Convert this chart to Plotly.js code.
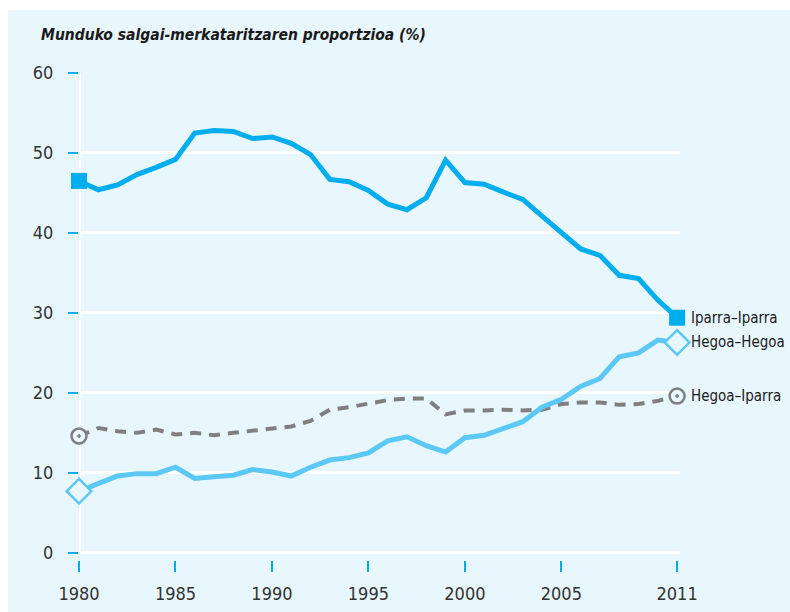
<!DOCTYPE html>
<html>
<head>
<meta charset="utf-8">
<script src="https://cdn.plot.ly/plotly-3.0.1.min.js"></script>
<style>
html,body{margin:0;padding:0;background:#ffffff;}
#chart{position:absolute;left:8px;top:10px;width:782px;height:602px;}
</style>
</head>
<body>
<div id="chart"></div>
<script>
const years = [1980,1981,1982,1983,1984,1985,1986,1987,1988,1989,1990,1991,1992,1993,1994,1995,1996,1997,1998,1999,2000,2001,2002,2003,2004,2005,2006,2007,2008,2009,2010,2011];
const iparraIparra = [46.5,45.4,46.0,47.3,48.2,49.2,52.5,52.8,52.7,51.8,52.0,51.2,49.8,46.7,46.4,45.3,43.6,42.9,44.4,49.1,46.3,46.1,45.1,44.2,42.1,40.1,38.0,37.2,34.7,34.3,31.6,29.4];
const hegoaHegoa = [7.7,8.6,9.6,9.9,9.9,10.7,9.3,9.5,9.7,10.4,10.1,9.6,10.7,11.6,11.9,12.5,14.0,14.5,13.4,12.6,14.4,14.7,15.5,16.4,18.2,19.2,20.8,21.8,24.5,25.0,26.6,26.3];
const hegoaIparra = [14.6,15.6,15.2,15.0,15.4,14.8,15.0,14.7,15.0,15.3,15.5,15.8,16.5,17.9,18.2,18.7,19.1,19.3,19.3,17.3,17.8,17.8,17.9,17.8,17.9,18.6,18.8,18.8,18.5,18.6,19.0,19.6];
const seriesNames = ["Iparra\u2013Iparra","Hegoa\u2013Hegoa","Hegoa\u2013Iparra"];
const xTicks = [1980,1985,1990,1995,2000,2005,2011];
const yTicks = [0,10,20,30,40,50,60];
const titleText = "Munduko salgai-merkataritzaren proportzioa (%)";

const DARK = "#00aeef", LIGHT = "#5bc8f5", GRAY = "#7f7f80", BG = "#e8f6fd";
const FONT = "'Liberation Sans Narrow', 'DejaVu Sans Condensed', 'Roboto Condensed', Roboto, sans-serif";
const last = years.length - 1;
function ends(arr){ return [arr[0], arr[last]]; }

const traces = [
  {x: years, y: hegoaIparra, mode:"lines", line:{color:GRAY, width:4, dash:"11px,8px"}},
  {x: years, y: hegoaHegoa, mode:"lines", line:{color:LIGHT, width:5}},
  {x: years, y: iparraIparra, mode:"lines", line:{color:DARK, width:5}},
  {x: ends(years), y: ends(hegoaIparra), mode:"markers", cliponaxis:false,
   marker:{symbol:"circle-dot", size:15, color:BG, line:{width:2.5, color:GRAY}}},
  {x: ends(years), y: ends(hegoaHegoa), mode:"markers", cliponaxis:false,
   marker:{symbol:"diamond", size:19, color:BG, line:{width:2.5, color:LIGHT}}},
  {x: ends(years), y: ends(iparraIparra), mode:"markers", cliponaxis:false,
   marker:{symbol:"square", size:16, color:DARK, line:{width:0}}}
];

const annotations = [
  {x: years[last], y: iparraIparra[last], text: seriesNames[0]},
  {x: years[last], y: hegoaHegoa[last], text: seriesNames[1]},
  {x: years[last], y: hegoaIparra[last], text: seriesNames[2]}
].map(a => Object.assign(a, {xref:"x", yref:"y", xanchor:"left", yanchor:"middle", xshift:12, showarrow:false,
  font:{family:FONT, size:15, color:"#1a1a1a"}}));

annotations.push({xref:"paper", yref:"paper", x:0, y:1, xshift:-40, yshift:38, xanchor:"left", yanchor:"middle",
  showarrow:false, text:"<b><i>"+titleText+"</i></b>", font:{family:FONT, size:15.5, color:"#1a1a1a"}});

const layout = {
  width:782, height:602,
  margin:{l:71, r:110, t:63, b:52},
  paper_bgcolor:BG, plot_bgcolor:BG,
  showlegend:false,
  xaxis:{range:[1980, 2011.15], tickvals:xTicks, ticktext:xTicks.map(String),
    showgrid:false, zeroline:false, showline:false,
    ticks:"outside", ticklen:11, tickwidth:2, tickcolor:DARK, ticklabelstandoff:6,
    tickfont:{family:FONT, size:18, color:"#333333"}},
  yaxis:{range:[-0.9, 60], tickvals:yTicks, showgrid:true, gridcolor:"#ffffff", gridwidth:3,
    zeroline:true, zerolinecolor:"#ffffff", zerolinewidth:3, showline:false,
    ticks:"outside", ticklen:10, tickwidth:2, tickcolor:DARK, ticklabelstandoff:11,
    tickfont:{family:FONT, size:18, color:"#333333"}},
  shapes:[{type:"line", xref:"x", yref:"y", x0:1980, x1:1980, y0:0, y1:60, layer:"below",
    line:{color:"#ffffff", width:4}}],
  annotations: annotations
};

Plotly.newPlot("chart", traces, layout, {displayModeBar:false, staticPlot:true});
</script>
</body>
</html>
